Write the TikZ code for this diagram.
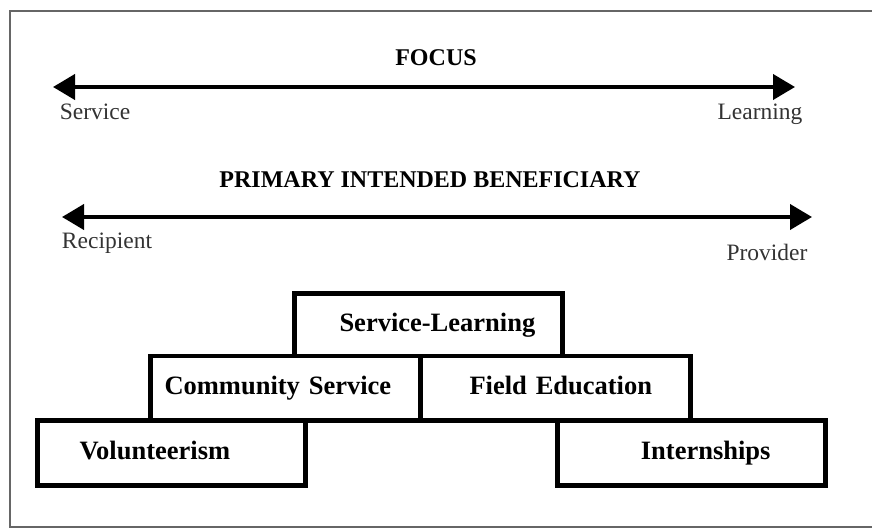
\documentclass[tikz,border=0pt]{standalone}
\usepackage{fontspec}
\setmainfont{Liberation Serif}
\usetikzlibrary{arrows.meta}

\begin{document}
\begin{tikzpicture}[x=1pt, y=-1pt]
  \tikzstyle{axis}=[line width=4pt, {Triangle[length=22pt,width=25pt]}-{Triangle[length=22pt,width=25pt]}]
  \tikzstyle{heading}=[font=\fontsize{24}{28}\selectfont\bfseries]
  \tikzstyle{endlabel}=[font=\fontsize{23.5}{28}\selectfont, text=black!80, text height=16pt, text depth=5pt]
  \tikzstyle{block}=[rectangle, draw, line width=4.5pt, inner sep=0pt, text height=18pt, text depth=5pt, font=\fontsize{26.5}{30}\selectfont\bfseries]

  \useasboundingbox (0,0) rectangle (872,529);
  \draw[black!60, line width=2pt] (872,11) -- (10,11) -- (10,527) -- (872,527);

  % focus scale
  \node[heading] (focus) at (436,58) {FOCUS};
  \coordinate (F-l) at (53,87);
  \coordinate (F-r) at (795,87);
  \draw[axis] (F-l) -- (F-r);
  \node[endlabel] (service) at (95,114) {Service};
  \node[endlabel] (learning) at (760,114) {Learning};

  % beneficiary scale
  \node[heading] (benef) at (430,180) {PRIMARY INTENDED BENEFICIARY};
  \coordinate (B-l) at (62,217);
  \coordinate (B-r) at (812,217);
  \draw[axis] (B-l) -- (B-r);
  \node[endlabel] (recipient) at (107,243) {Recipient};
  \node[endlabel] (provider) at (767,255) {Provider};

  % blocks
  \node[block, minimum height=62.5pt, text width=268pt, align=left] (SL) at (428.5,324.75) {\hspace*{45pt}Service-Learning};
  \node[block, minimum height=64.5pt, text width=270pt, align=left] (CS) at (285.5,388.25) {\hspace*{14pt}Community Service};
  \node[block, minimum height=64.5pt, text width=270pt, align=left] (FE) at (555.5,388.25) {\hspace*{49pt}Field Education};
  \node[block, minimum height=65pt, text width=268pt, align=left] (V) at (171.5,453) {\hspace*{42pt}Volunteerism};
  \node[block, minimum height=65pt, text width=268pt, align=right] (I) at (691.5,453) {Internships\hspace*{55pt}\null};
\end{tikzpicture}
\end{document}
